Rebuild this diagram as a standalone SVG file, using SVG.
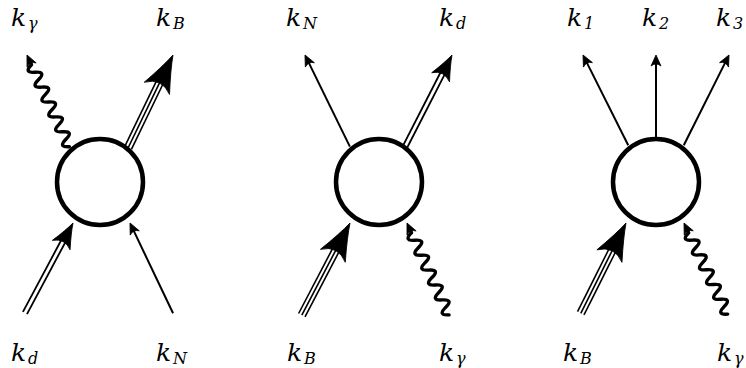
<svg xmlns="http://www.w3.org/2000/svg" width="746" height="368" viewBox="0 0 746 368">
<style>
.blob{fill:#fff;stroke:#000;stroke-width:4.5}
.s1{stroke:#000;stroke-width:2;fill:none}
.s2{stroke:#000;stroke-width:1.8;fill:none}
.s3{stroke:#000;stroke-width:1.6;fill:none}
.wave{stroke:#000;stroke-width:3.4;fill:none;stroke-linecap:round;stroke-linejoin:round}
.head{fill:#000;stroke:#000;stroke-width:0.8;stroke-linejoin:miter}
text{font-style:italic;font-size:25px;fill:#000}
.sub{font-size:16px}
</style>
<defs>
<path id="h1" class="head" d="M0,0 L-11,-5 Q-7,0 -11,5 Z"/>
<path id="h2" class="head" d="M0,0 Q-10,-3 -25,-10 Q-17,0 -25,10 Q-10,3 0,0 Z"/>
<path id="h3" class="head" d="M0,0 Q-14,-4 -37,-14 Q-25,0 -37,14 Q-14,4 0,0 Z"/>
<path id="w" class="wave" d="M-101,0 q4.1,-11 8.2,0 t8.2,0 t8.2,0 t8.2,0 t8.2,0 t8.2,0 t8.2,0 t8.2,0 t8.2,0 t8.2,0 t8.2,0 L-8,0"/>
</defs>
<g id="connectors">
<g id="d1-kgamma" transform="translate(27,55) rotate(-114.8)"><use href="#w"/><use href="#h1"/></g>
<g id="d1-kB" transform="translate(173,55) rotate(-64.2)"><line class="s3" x1="-103" y1="-3.6" x2="-26" y2="-3.6"/><line class="s3" x1="-103" y1="0" x2="-26" y2="0"/><line class="s3" x1="-103" y1="3.6" x2="-26" y2="3.6"/><use href="#h3"/></g>
<g id="d1-kd" transform="translate(73,223) rotate(-61.9)"><line class="s2" x1="-102" y1="-2.3" x2="-18" y2="-2.3"/><line class="s2" x1="-102" y1="2.3" x2="-18" y2="2.3"/><use href="#h2"/></g>
<g id="d1-kN" transform="translate(130,223) rotate(-115.5)"><line class="s1" x1="-100" y1="0" x2="-6" y2="0"/><use href="#h1"/></g>
<g id="d2-kN" transform="translate(305,55) rotate(-116.1)"><line class="s1" x1="-102" y1="0" x2="-6" y2="0"/><use href="#h1"/></g>
<g id="d2-kd" transform="translate(452,55) rotate(-62.9)"><line class="s2" x1="-103" y1="-2.3" x2="-18" y2="-2.3"/><line class="s2" x1="-103" y1="2.3" x2="-18" y2="2.3"/><use href="#h2"/></g>
<g id="d2-kB" transform="translate(350,223) rotate(-62.4)"><line class="s3" x1="-104" y1="-3.6" x2="-26" y2="-3.6"/><line class="s3" x1="-104" y1="0" x2="-26" y2="0"/><line class="s3" x1="-104" y1="3.6" x2="-26" y2="3.6"/><use href="#h3"/></g>
<g id="d2-kgamma" transform="translate(407,223) rotate(-114.6)"><use href="#w"/><use href="#h1"/></g>
<g id="d3-k1" transform="translate(583,55) rotate(-116.6)"><line class="s1" x1="-101" y1="0" x2="-6" y2="0"/><use href="#h1"/></g>
<g id="d3-k2" transform="translate(656,55) rotate(-90)"><line class="s1" x1="-85" y1="0" x2="-6" y2="0"/><use href="#h1"/></g>
<g id="d3-k3" transform="translate(729,55) rotate(-63.4)"><line class="s1" x1="-101" y1="0" x2="-6" y2="0"/><use href="#h1"/></g>
<g id="d3-kB" transform="translate(626,223) rotate(-63.4)"><line class="s3" x1="-101" y1="-3.6" x2="-26" y2="-3.6"/><line class="s3" x1="-101" y1="0" x2="-26" y2="0"/><line class="s3" x1="-101" y1="3.6" x2="-26" y2="3.6"/><use href="#h3"/></g>
<g id="d3-kgamma" transform="translate(684,223) rotate(-115.6)"><use href="#w"/><use href="#h1"/></g>
</g>
<g id="vertex1"><circle class="blob" cx="100" cy="182" r="43"/></g>
<g id="vertex2"><circle class="blob" cx="379" cy="182" r="43"/></g>
<g id="vertex3"><circle class="blob" cx="656" cy="182" r="43"/></g>
<g id="labels" font-family="DejaVu Serif, Liberation Serif, serif">
<g id="lbl-d1-kgamma"><text x="11" y="26">k<tspan class="sub" x="28" y="29">γ</tspan></text></g>
<g id="lbl-d1-kB"><text x="156" y="26">k<tspan class="sub" x="173" y="29">B</tspan></text></g>
<g id="lbl-d1-kd"><text x="11" y="361">k<tspan class="sub" x="28" y="364">d</tspan></text></g>
<g id="lbl-d1-kN"><text x="156" y="361">k<tspan class="sub" x="173" y="364">N</tspan></text></g>
<g id="lbl-d2-kN"><text x="286" y="26">k<tspan class="sub" x="303" y="29">N</tspan></text></g>
<g id="lbl-d2-kd"><text x="439" y="26">k<tspan class="sub" x="456" y="29">d</tspan></text></g>
<g id="lbl-d2-kB"><text x="287" y="361">k<tspan class="sub" x="304" y="364">B</tspan></text></g>
<g id="lbl-d2-kgamma"><text x="439" y="361">k<tspan class="sub" x="456" y="364">γ</tspan></text></g>
<g id="lbl-d3-k1"><text x="567" y="26">k<tspan class="sub" x="584" y="29">1</tspan></text></g>
<g id="lbl-d3-k2"><text x="642" y="26">k<tspan class="sub" x="659" y="29">2</tspan></text></g>
<g id="lbl-d3-k3"><text x="716" y="26">k<tspan class="sub" x="733" y="29">3</tspan></text></g>
<g id="lbl-d3-kB"><text x="563" y="361">k<tspan class="sub" x="580" y="364">B</tspan></text></g>
<g id="lbl-d3-kgamma"><text x="717" y="361">k<tspan class="sub" x="734" y="364">γ</tspan></text></g>
</g>
</svg>
